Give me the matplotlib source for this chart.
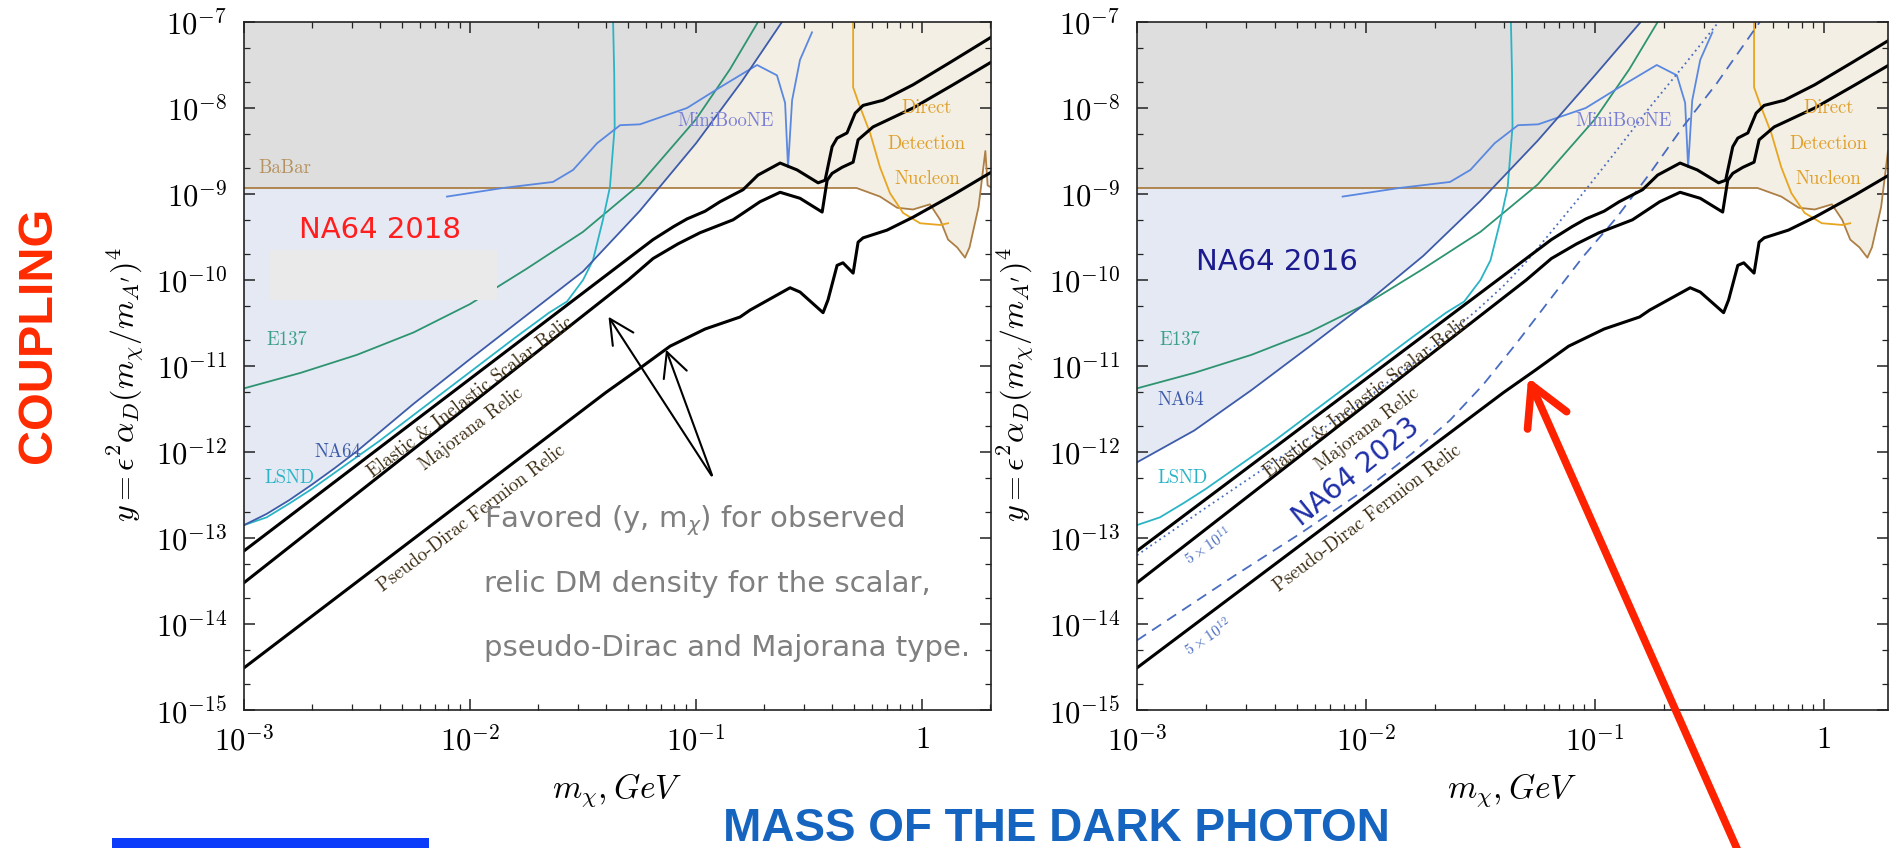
#!/usr/bin/env python3
"""NA64 dark matter coupling plot, 2018 panel and 2016/2023 panel side by side"""

import numpy as np
import matplotlib
matplotlib.use("Agg")
import matplotlib.pyplot as plt
from matplotlib.patches import Polygon, Rectangle, FancyArrowPatch
from matplotlib.ticker import LogLocator, FixedLocator, FuncFormatter, NullFormatter

plt.rcParams['mathtext.fontset'] = 'cm'
plt.rcParams['font.family'] = ['DejaVu Sans']

# ---- curves as log10(m / GeV) and log10(y) ----
BABAR_LM = [-3.0, -0.29, -0.186, -0.11, -0.04, 0.035, 0.08, 0.115, 0.155, 0.19, 0.21, 0.25, 0.28, 0.29, 0.31]
BABAR_LY = [-8.93, -8.93, -9.03, -9.16, -9.18, -9.12, -9.3, -9.53, -9.62, -9.74, -9.62, -9.15, -8.5, -8.9, -8.93]

E137_LM = [-3.0, -2.75, -2.5, -2.25, -2.0, -1.75, -1.5, -1.25, -1.0, -0.85, -0.726]
E137_LY = [-11.26, -11.08, -10.87, -10.61, -10.28, -9.87, -9.44, -8.89, -8.13, -7.55, -7.0]

LSND_LM = [-3.0, -2.9, -2.8, -2.7, -2.55, -2.4, -2.2, -2.0, -1.8, -1.65, -1.571, -1.5, -1.456, -1.412,
           -1.381, -1.36, -1.362, -1.367]
LSND_LY = [-12.85, -12.76, -12.6, -12.43, -12.15, -11.87, -11.47, -11.07, -10.67, -10.38, -10.25, -10.0,
           -9.77, -9.30, -8.92, -8.22, -7.6, -7.0]

MINIBOONE_LM = [-2.102, -1.854, -1.633, -1.544, -1.438, -1.336, -1.248, -1.04, -0.894, -0.73, -0.642,
                -0.606, -0.593, -0.575, -0.54, -0.487]
MINIBOONE_LY = [-9.03, -8.93, -8.86, -8.72, -8.41, -8.20, -8.19, -8.0, -7.76, -7.5, -7.62,
                -7.94, -8.69, -7.91, -7.44, -7.12]

NUCLEON_LM = [-0.305, -0.305, -0.274, -0.23, -0.186, -0.142, -0.084, -0.009, 0.08, 0.115]
NUCLEON_LY = [-7.0, -7.76, -7.99, -8.29, -8.69, -8.99, -9.22, -9.34, -9.36, -9.34]

NA64_2018_LM = [-3.0, -2.9, -2.8, -2.7, -2.6, -2.5, -2.25, -2.0, -1.75, -1.5, -1.25, -1.0, -0.8, -0.62]
NA64_2018_LY = [-12.85, -12.72, -12.56, -12.38, -12.19, -11.99, -11.44, -10.92, -10.41, -9.90, -9.2,
                -8.41, -7.70, -7.0]

NA64_2016_LM = [-3.0, -2.75, -2.5, -2.25, -2.0, -1.75, -1.5, -1.25, -1.0, -0.8]
NA64_2016_LY = [-12.12, -11.75, -11.28, -10.78, -10.27, -9.72, -9.08, -8.38, -7.62, -7.0]

# NA64 2023 projections (5e11 and 5e12 electrons on target)
EOT_5E11_LM = [-3.0, -2.7, -2.45, -2.2, -2.0, -1.75, -1.515, -1.4, -1.297, -1.197, -1.052, -0.904,
               -0.76, -0.616, -0.46]
EOT_5E11_LY = [-13.2, -12.65, -12.2, -11.75, -11.38, -10.88, -10.35, -10.07, -9.78, -9.46, -8.99,
               -8.49, -7.99, -7.52, -7.0]
EOT_5E12_LM = [-3.0, -2.581, -2.288, -2.0, -1.8, -1.633, -1.489, -1.341, -1.197, -1.052, -0.904,
               -0.76, -0.616, -0.467, -0.28]
EOT_5E12_LY = [-14.19, -13.45, -12.95, -12.43, -12.02, -11.63, -11.22, -10.73, -10.23, -9.73, -9.27,
               -8.76, -8.22, -7.71, -7.0]

# relic targets
SCALAR_LM = [-3.0, -1.19, -1.1, -1.04, -0.96, -0.894, -0.792, -0.726, -0.628, -0.553, -0.46, -0.429,
             -0.41, -0.398, -0.376, -0.332, -0.296, -0.261, -0.173, -0.04, 0.124, 0.31]
SCALAR_LY = [-13.15, -9.53, -9.38, -9.29, -9.2, -9.09, -8.95, -8.78, -8.64, -8.72, -8.87, -8.84,
             -8.6, -8.45, -8.35, -8.29, -8.06, -7.97, -7.91, -7.73, -7.47, -7.17]
MAJORANA_LM = [-3.0, -1.3, -1.19, -1.08, -0.982, -0.836, -0.717, -0.628, -0.54, -0.442, -0.42, -0.398,
               -0.354, -0.305, -0.283, -0.217, -0.04, 0.137, 0.31]
MAJORANA_LY = [-13.52, -10.0, -9.75, -9.58, -9.45, -9.30, -9.09, -8.98, -9.05, -9.21, -8.84, -8.76,
               -8.69, -8.63, -8.37, -8.22, -8.0, -7.73, -7.46]
PSEUDO_DIRAC_LM = [-3.0, -1.4, -1.261, -1.115, -0.96, -0.805, -0.761, -0.584, -0.54, -0.438, -0.416,
                   -0.376, -0.35, -0.305, -0.283, -0.261, -0.155, -0.04, 0.137, 0.31]
PSEUDO_DIRAC_LY = [-14.51, -11.31, -11.05, -10.77, -10.57, -10.43, -10.35, -10.09, -10.14, -10.38,
                   -10.23, -9.83, -9.80, -9.92, -9.56, -9.51, -9.42, -9.27, -9.01, -8.74]

FAVORED_LINES = [r"Favored (y, m$_\chi$) for observed",
                 "relic DM density for the scalar,",
                 "pseudo-Dirac and Majorana type."]

# colours
BEIGE = '#F3EFE5'
LIGHTBLUE = '#E5E9F4'
GRAY = '#DEDEDE'
BROWN = '#AD7F45'
GREEN = '#2E9470'
CYAN = '#2AB4C6'
MB_BLUE = '#5A88E0'
NA64_BLUE = '#3D5BA9'
ORANGE = '#E8A520'
PROJ_BLUE = '#4A6CC0'

W, H = 1895, 848
SERIF = 'cmr10'


def pw(v):
    return 10 ** np.asarray(v, dtype=float)


def tick_fmt(v, pos):
    e = int(round(np.log10(v)))
    if e == 0:
        return r'$1$'
    return r'$10^{%d}$' % e


def make_axes(fig, box):
    l, t, r, b = box
    return fig.add_axes([l / W, 1 - b / H, (r - l) / W, (b - t) / H])


def draw_panel(ax, na64_lm, na64_ly, xmax):
    ax.set_xscale('log')
    ax.set_yscale('log')
    ax.set_xlim(1e-3, xmax)
    ax.set_ylim(1e-15, 1e-7)

    # excluded regions
    bx, by = pw(BABAR_LM), pw(BABAR_LY)
    ax.fill_between(bx, by, 1e-7, color=BEIGE, lw=0, zorder=1)
    nx, ny = pw(na64_lm), pw(na64_ly)
    na64_patch = Polygon(list(zip(nx, ny)) + [(1e-3, 1e-7)], closed=True,
                         facecolor=LIGHTBLUE, edgecolor='none', zorder=1.1)
    ax.add_patch(na64_patch)
    gray = ax.fill_between(bx, by, 1e-7, color=GRAY, lw=0, zorder=1.2)
    gray.set_clip_path(na64_patch)

    # limits from other experiments
    ax.plot(bx, by, color=BROWN, lw=1.3, zorder=2)
    ax.plot(pw(E137_LM), pw(E137_LY), color=GREEN, lw=1.3, zorder=2)
    ax.plot(pw(LSND_LM), pw(LSND_LY), color=CYAN, lw=1.3, zorder=2)
    ax.plot(pw(MINIBOONE_LM), pw(MINIBOONE_LY), color=MB_BLUE, lw=1.3, zorder=2)
    ax.plot(pw(NUCLEON_LM), pw(NUCLEON_LY), color=ORANGE, lw=1.3, zorder=2)
    ax.plot(nx, ny, color=NA64_BLUE, lw=1.3, zorder=2.1)

    # relic targets
    for lm, ly in [(SCALAR_LM, SCALAR_LY), (MAJORANA_LM, MAJORANA_LY),
                   (PSEUDO_DIRAC_LM, PSEUDO_DIRAC_LY)]:
        ax.plot(pw(lm), pw(ly), color='black', lw=2.2, zorder=3, solid_joinstyle='round')

    rel = dict(fontsize=13.5, family=SERIF, color='#3A2A10', rotation=37.3,
               rotation_mode='anchor', ha='center', va='center', zorder=4)
    ax.text(10 ** -1.996, 10 ** -11.36, 'Elastic & Inelastic Scalar Relic', **rel)
    ax.text(10 ** -1.996, 10 ** -11.73, 'Majorana Relic', **rel)
    ax.text(10 ** -1.991, 10 ** -12.77, 'Pseudo-Dirac Fermion Relic', **rel)

    lab = dict(fontsize=13.5, family=SERIF, zorder=4, va='center')
    ax.text(10 ** -1.084, 10 ** -8.15, 'MiniBooNE', color='#7A7FD6', **lab)
    for txt, ly in [('Direct', -8.0), ('Detection', -8.42), ('Nucleon', -8.83)]:
        ax.text(1.05, 10 ** ly, txt, color='#E0A02A', ha='center', **lab)
    ax.text(10 ** -2.9, 10 ** -10.70, 'E137', color='#3AA08A', **lab)
    ax.text(10 ** -2.91, 10 ** -12.30, 'LSND', color='#2AB4C6', **lab)

    # axes styling
    ax.yaxis.set_major_locator(FixedLocator(pw(np.arange(-15, -6))))
    ax.yaxis.set_minor_locator(LogLocator(base=10, subs=(2.0, 5.0), numticks=30))
    ax.xaxis.set_major_locator(LogLocator(base=10, numticks=10))
    ax.xaxis.set_minor_locator(LogLocator(base=10, subs=np.arange(2, 10), numticks=30))
    ax.xaxis.set_major_formatter(FuncFormatter(tick_fmt))
    ax.yaxis.set_major_formatter(FuncFormatter(tick_fmt))
    ax.xaxis.set_minor_formatter(NullFormatter())
    ax.yaxis.set_minor_formatter(NullFormatter())
    ax.tick_params(which='both', direction='in', top=True, right=True, color='#222222')
    ax.tick_params(which='major', length=8, width=1.1, labelsize=22)
    ax.tick_params(which='minor', length=4.5, width=0.9)
    ax.tick_params(axis='y', pad=12)
    ax.tick_params(axis='x', pad=11)
    for s in ax.spines.values():
        s.set_linewidth(1.2)
        s.set_color('#222222')
        s.set_zorder(6)


def main():
    fig = plt.figure(figsize=(W / 100, H / 100), dpi=100)

    # ---- left panel: NA64 2018 ----
    ax1 = make_axes(fig, (244, 22, 991, 710))
    draw_panel(ax1, NA64_2018_LM, NA64_2018_LY, 10 ** 0.305)
    ax1.text(10 ** -2.398, 10 ** -9.42, 'NA64 2018', color='#FF1E1E', fontsize=21,
             ha='center', va='center', zorder=5)
    ax1.text(1.16e-3, 10 ** -8.70, 'BaBar', color='#B5925F', fontsize=13.5, family=SERIF,
             va='center', zorder=4)
    ax1.text(10 ** -2.69, 10 ** -12.0, 'NA64', color=NA64_BLUE, fontsize=13.5, family=SERIF,
             va='center', zorder=4)
    # grey box left over on top of the plot
    ax1.add_patch(Rectangle((0.035, 0.596), 0.304, 0.073, transform=ax1.transAxes,
                            facecolor='#EAEAEA', edgecolor='none', zorder=5))
    # arrows towards the relic lines
    start = (10 ** -0.925, 10 ** -12.3)
    for tip in [(10 ** -1.394, 10 ** -10.40), (10 ** -1.137, 10 ** -10.78)]:
        ax1.annotate('', xy=tip, xytext=start, zorder=5,
                     arrowprops=dict(arrowstyle='->,head_length=0.8,head_width=0.4',
                                     color='black', lw=1.5, mutation_scale=22))
    for line, yf in zip(FAVORED_LINES, [0.275, 0.183, 0.090]):
        ax1.text(0.321, yf, line, transform=ax1.transAxes,
                 fontsize=21, color='#7F7F7F', va='center', ha='left',
                 math_fontfamily='dejavusans', zorder=5)

    # ---- right panel: NA64 2016 and 2023 projections ----
    ax2 = make_axes(fig, (1137, 22, 1888, 710))
    draw_panel(ax2, NA64_2016_LM, NA64_2016_LY, 10 ** 0.28)
    ax2.plot(pw(EOT_5E11_LM), pw(EOT_5E11_LY), color=PROJ_BLUE, lw=1.3, ls=(0, (1, 2)), zorder=2.5)
    ax2.plot(pw(EOT_5E12_LM), pw(EOT_5E12_LY), color=PROJ_BLUE, lw=1.3, ls=(0, (6, 4)), zorder=2.5)
    ax2.text(10 ** -2.39, 10 ** -9.79, 'NA64 2016', color='#1B1B8F', fontsize=21,
             ha='center', va='center', zorder=5)
    ax2.text(10 ** -2.044, 10 ** -12.23, 'NA64 2023', color='#1F2FA8', fontsize=20,
             rotation=39, rotation_mode='anchor', ha='center', va='center', zorder=5)
    ax2.text(10 ** -2.69, 10 ** -13.10, r'$5\times10^{11}$', color=PROJ_BLUE, fontsize=11,
             rotation=34, rotation_mode='anchor', ha='center', va='center', zorder=4)
    ax2.text(10 ** -2.69, 10 ** -14.15, r'$5\times10^{12}$', color=PROJ_BLUE, fontsize=11,
             rotation=34, rotation_mode='anchor', ha='center', va='center', zorder=4)
    ax2.text(10 ** -2.91, 10 ** -11.40, 'NA64', color=NA64_BLUE, fontsize=13.5, family=SERIF,
             va='center', zorder=4)

    # ---- axis labels and captions ----
    ylab = r'$y = \epsilon^2\alpha_D(m_\chi/m_{A^\prime})^4$'
    for x in [126, 1016]:
        fig.text(x / W, 1 - 385 / H, ylab, rotation=90, fontsize=23, ha='center', va='center')
    for x in [617, 1512]:
        fig.text(x / W, 1 - 790 / H, r'$m_\chi, GeV$', fontsize=24, ha='center', va='center')

    fig.text(39 / W, 1 - 335 / H, 'COUPLING', rotation=90, color='#FF2A00', fontsize=35,
             fontweight='bold', family='Liberation Sans', ha='center', va='center')
    fig.text(1056 / W, 1 - 829 / H, 'MASS OF THE DARK PHOTON', color='#1565C0', fontsize=33,
             fontweight='bold', family='Liberation Sans', ha='center', va='center')
    fig.add_artist(Rectangle((112 / W, 0), 317 / W, 10 / H, transform=fig.transFigure,
                             facecolor='#0A3CFA', edgecolor='none'))

    # red arrow pointing at the pseudo-Dirac line in the right panel
    fig.add_artist(FancyArrowPatch((1742 / W, -12 / H), (1527 / W, 1 - 375 / H),
                                   transform=fig.transFigure, color='#FF2200', lw=5.5,
                                   arrowstyle='->,head_length=1.0,head_width=0.55',
                                   mutation_scale=28, capstyle='round', joinstyle='round'))

    fig.savefig('out.png', dpi=100, facecolor='white')
    plt.close(fig)


if __name__ == "__main__":
    main()
